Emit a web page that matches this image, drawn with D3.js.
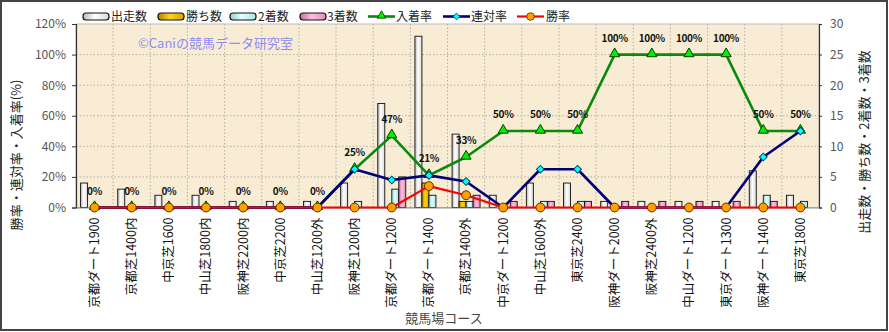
<!DOCTYPE html>
<html>
<head>
<meta charset="utf-8">
<script src="https://cdn.jsdelivr.net/npm/d3@7/dist/d3.min.js"></script>
<style>
  html, body { margin: 0; padding: 0; background: #fff; }
  svg { display: block; }
  text { font-family: "Noto Sans CJK JP", "Noto Sans", sans-serif; }
</style>
</head>
<body>
<svg id="chart" width="889" height="332"></svg>
<script>
// コース別の成績
const courses = [
  "京都ダート1900", "京都芝1400内", "中京芝1600", "中山芝1800内", "阪神芝2200内",
  "中京芝2200", "中山芝1200外", "阪神芝1200内", "京都ダート1200", "京都ダート1400",
  "京都芝1400外", "中京ダート1200", "中山芝1600外", "東京芝2400", "阪神ダート2000",
  "阪神芝2400外", "中山ダート1200", "東京ダート1300", "阪神ダート1400", "東京芝1800"
];
const starts  = [4, 3, 2, 2, 1, 1, 1, 4, 17, 28, 12, 2, 4, 4, 1, 1, 1, 1, 6, 2];
const wins    = [0, 0, 0, 0, 0, 0, 0, 0, 0, 4, 1, 0, 0, 0, 0, 0, 0, 0, 0, 0];
const seconds = [0, 0, 0, 0, 0, 0, 0, 1, 3, 2, 1, 0, 1, 1, 0, 0, 0, 0, 2, 1];
const thirds  = [0, 0, 0, 0, 0, 0, 0, 0, 5, 0, 2, 1, 1, 1, 1, 1, 1, 1, 1, 0];
// 率 (%)
const placeRate    = [0, 0, 0, 0, 0, 0, 0, 25, 47, 21, 33, 50, 50, 50, 100, 100, 100, 100, 50, 50];
const quinellaRate = [0, 0, 0, 0, 0, 0, 0, 25, 18, 21, 17, 0, 25, 25, 0, 0, 0, 0, 33, 50];
const winRate      = [0, 0, 0, 0, 0, 0, 0, 0, 0, 14, 8, 0, 0, 0, 0, 0, 0, 0, 0, 0];
const leftTicks  = [0, 20, 40, 60, 80, 100, 120];
const rightTicks = [0, 5, 10, 15, 20, 25, 30];

const barSeries = [
  { key: "出走数", values: starts,  grad: "gStart" },
  { key: "勝ち数", values: wins,    grad: "gWin" },
  { key: "2着数", values: seconds, grad: "gSecond" },
  { key: "3着数", values: thirds,  grad: "gThird" }
];
const lineSeries = [
  { key: "入着率", values: placeRate,    line: "#0a8a0a", width: 2.6, marker: "triangle" },
  { key: "連対率", values: quinellaRate, line: "#00007a", width: 2.6, marker: "diamond" },
  { key: "勝率",   values: winRate,      line: "#ff0000", width: 2.2, marker: "circle" }
];

const svg = d3.select("#chart");
const L = 76, R = 819, T = 24, B = 207.5;

// gradients for the bars
const defs = svg.append("defs");
function grad(id, stops) {
  const g = defs.append("linearGradient").attr("id", id)
    .attr("x1", "0%").attr("x2", "100%").attr("y1", "0%").attr("y2", "0%");
  stops.forEach(([o, c]) => g.append("stop").attr("offset", o).attr("stop-color", c));
}
grad("gStart",  [["0%", "#b8b8b8"], ["45%", "#ffffff"], ["100%", "#d8d8d8"]]);
grad("gWin",    [["0%", "#b08000"], ["45%", "#ffd21a"], ["100%", "#d8a400"]]);
grad("gSecond", [["0%", "#8fd0d0"], ["45%", "#e4ffff"], ["100%", "#a8e4e4"]]);
grad("gThird",  [["0%", "#c86a9c"], ["45%", "#ffc0e0"], ["100%", "#e08cb8"]]);

// outer frame
svg.append("rect").attr("x", 1).attr("y", 1).attr("width", 886).attr("height", 329)
  .attr("fill", "#fff").attr("stroke", "#444").attr("stroke-width", 2);

// plot background
svg.append("rect").attr("x", L).attr("y", T).attr("width", R - L).attr("height", B - T)
  .attr("fill", "#f8ecd5").attr("stroke", "#bbb").attr("stroke-width", 1);

const x = d3.scaleBand().domain(courses).range([L, R]).padding(0);
const xs = d3.scaleBand().domain(barSeries.map(s => s.key)).range([-14, 14]).padding(0);
const yL = d3.scaleLinear().domain([0, 120]).range([B, T]);
const yR = d3.scaleLinear().domain([0, 30]).range([B, T]);
const cx = c => x(c) + x.bandwidth() / 2;

// grid
const grid = svg.append("g").attr("stroke", "#a8a095").attr("stroke-dasharray", "1.5,2").attr("stroke-width", 0.8);
leftTicks.slice(1, -1).forEach(t => grid.append("line")
  .attr("x1", L).attr("x2", R).attr("y1", yL(t)).attr("y2", yL(t)));
courses.slice(1).forEach(c => grid.append("line")
  .attr("x1", x(c)).attr("x2", x(c)).attr("y1", T).attr("y2", B));

// bars
const bars = svg.append("g");
barSeries.forEach(s => {
  bars.selectAll(null).data(courses).join("rect")
    .attr("x", (c) => cx(c) + xs(s.key))
    .attr("width", xs.bandwidth())
    .attr("y", (c, i) => yR(s.values[i]))
    .attr("height", (c, i) => B - yR(s.values[i]))
    .attr("fill", `url(#${s.grad})`)
    .attr("stroke", "#111").attr("stroke-width", 0.9)
    .attr("display", (c, i) => s.values[i] > 0 ? null : "none");
});

// axes
const axL = svg.append("g").attr("transform", `translate(${L},0)`)
  .call(d3.axisLeft(yL).tickValues(leftTicks).tickFormat(d => d + "%").tickSize(4).tickPadding(6));
const axR = svg.append("g").attr("transform", `translate(${R},0)`)
  .call(d3.axisRight(yR).tickValues(rightTicks).tickSize(3).tickPadding(8));
const axB = svg.append("g").attr("transform", `translate(0,${B})`)
  .call(d3.axisBottom(x).tickSize(0).tickPadding(0));
[axL, axR].forEach(a => {
  a.select(".domain").attr("stroke", "#333").attr("stroke-width", 1.2);
  a.selectAll(".tick line").attr("stroke", "#333");
  a.selectAll(".tick text").attr("fill", "#555").attr("font-size", 12)
    .attr("font-family", "'Liberation Sans', Arial, sans-serif");
});
axB.select(".domain").attr("stroke", "#888");
axB.selectAll(".tick text")
  .attr("transform", "rotate(-90)")
  .attr("text-anchor", "end")
  .attr("x", -10).attr("y", 0).attr("dy", "0.35em")
  .attr("fill", "#111").attr("font-size", 12.5)
  .attr("font-family", "'Noto Sans CJK JP', sans-serif");

// lines with markers
const markerPath = {
  triangle: d3.symbol(d3.symbolTriangle, 44)(),
  diamond: d3.symbol(d3.symbolSquare, 30)(),
  circle: d3.symbol(d3.symbolCircle, 62)()
};
const markerStyle = {
  triangle: { fill: "#00f000", stroke: "#004000", rot: 0, dy: 0.8 },
  diamond:  { fill: "#00ffff", stroke: "#004060", rot: 45, dy: 0 },
  circle:   { fill: "#ffa000", stroke: "#5a3000", rot: 0, dy: 0 }
};
const line = d3.line().x((d, i) => cx(courses[i])).y(d => yL(d));
lineSeries.forEach(s => {
  const g = svg.append("g");
  g.append("path").datum(s.values).attr("d", line)
    .attr("fill", "none").attr("stroke", s.line).attr("stroke-width", s.width)
    .attr("stroke-linejoin", "round");
  const ms = markerStyle[s.marker];
  g.selectAll("path.m").data(s.values).join("path").attr("class", "m")
    .attr("d", markerPath[s.marker])
    .attr("transform", (d, i) => `translate(${cx(courses[i])},${yL(d) - ms.dy}) rotate(${ms.rot})`)
    .attr("fill", ms.fill).attr("stroke", ms.stroke).attr("stroke-width", 1);
});

// data labels for 入着率
svg.append("g").selectAll("text").data(placeRate).join("text")
  .attr("x", (d, i) => cx(courses[i]))
  .attr("y", d => yL(d) - 13)
  .attr("text-anchor", "middle")
  .attr("font-size", 10).attr("font-weight", "bold").attr("fill", "#111")
  .attr("font-family", "'DejaVu Sans', sans-serif")
  .attr("letter-spacing", -0.3)
  .text(d => d + "%");

// watermark
svg.append("text").attr("x", 138).attr("y", 48)
  .attr("font-size", 13).attr("fill", "#8c8cf2")
  .text("©Caniの競馬データ研究室");

// axis titles
svg.append("text").attr("transform", "translate(21,155) rotate(-90)")
  .attr("text-anchor", "middle").attr("font-size", 13).attr("fill", "#222")
  .text("勝率・連対率・入着率(%)");
svg.append("text").attr("transform", "translate(869,142) rotate(-90)")
  .attr("text-anchor", "middle").attr("font-size", 13).attr("fill", "#222")
  .text("出走数・勝ち数・2着数・3着数");
svg.append("text").attr("x", 444).attr("y", 323)
  .attr("text-anchor", "middle").attr("font-size", 13).attr("fill", "#444")
  .text("競馬場コース");

// legend
const leg = svg.append("g");
const legendItems = [
  { s: barSeries[0], x: 83,  tx: 111 },
  { s: barSeries[1], x: 158, tx: 186 },
  { s: barSeries[2], x: 230, tx: 258 },
  { s: barSeries[3], x: 300, tx: 327 },
  { s: lineSeries[0], x: 368, tx: 396 },
  { s: lineSeries[1], x: 443, tx: 471 },
  { s: lineSeries[2], x: 517, tx: 546 }
];
const ly = 16.5;
legendItems.forEach(it => {
  if (it.s.grad) {
    leg.append("rect").attr("x", it.x).attr("y", ly - 3.5).attr("width", 26).attr("height", 7)
      .attr("rx", 3).attr("fill", `url(#${it.s.grad})`).attr("stroke", "#111").attr("stroke-width", 1.2);
  } else {
    leg.append("line").attr("x1", it.x).attr("x2", it.x + 27).attr("y1", ly).attr("y2", ly)
      .attr("stroke", it.s.line).attr("stroke-width", it.s.width);
    const ms = markerStyle[it.s.marker];
    leg.append("path").attr("d", markerPath[it.s.marker])
      .attr("transform", `translate(${it.x + 13.5},${ly - ms.dy}) rotate(${ms.rot}) scale(0.85)`)
      .attr("fill", ms.fill).attr("stroke", ms.stroke).attr("stroke-width", 1);
  }
  leg.append("text").attr("x", it.tx).attr("y", ly + 4.5)
    .attr("font-size", 12).attr("fill", "#222").text(it.s.key);
});
</script>
</body>
</html>
